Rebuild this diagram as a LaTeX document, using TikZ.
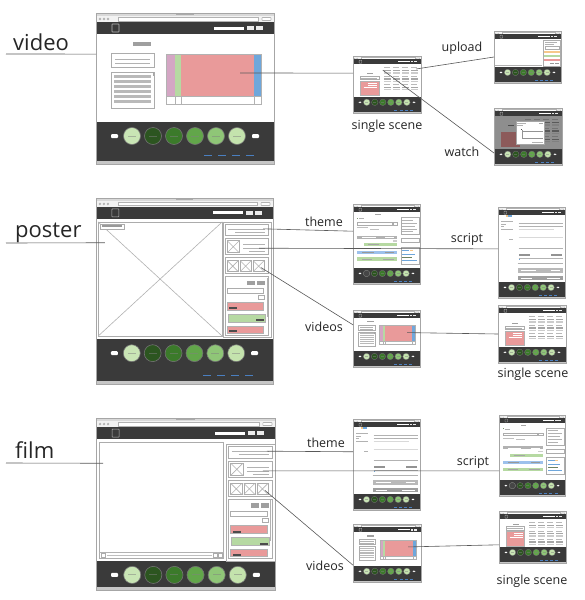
\documentclass[tikz,border=0pt]{standalone}
\usepackage{fontspec}
\setmainfont{Open Sans}
\usetikzlibrary{calc}

\definecolor{hdr}{HTML}{3A3A3A}
\definecolor{tpink}{HTML}{E99A9A}
\definecolor{tmauve}{HTML}{D4A6C4}
\definecolor{tgreen}{HTML}{B6D9A2}
\definecolor{tblue}{HTML}{6FA7DB}
\definecolor{lblue}{HTML}{9DC1EC}
\definecolor{torange}{HTML}{F6C88A}
\definecolor{dimgray}{HTML}{8E8E8E}
\definecolor{dimpink}{HTML}{8C5A5A}
\definecolor{linkblue}{HTML}{4A7FC0}
\definecolor{cA}{HTML}{C9E5B5}
\definecolor{cB}{HTML}{2C5520}
\definecolor{cC}{HTML}{3B7A2A}
\definecolor{cD}{HTML}{62A64A}
\definecolor{cE}{HTML}{8FC677}
\definecolor{cF}{HTML}{C4E3AD}

\newcommand{\wlw}{0.5}

\tikzset{
  wbox/.style={draw=gray!65, line width=\wlw pt, fill=white},
  wline/.style={draw=gray!60, line width=\wlw pt},
  conn/.style={draw=black!65, line width=0.6pt},
  biglabel/.style={font=\fontsize{22}{26}\selectfont, text=black!85, inner sep=0pt, anchor=base west},
  smalllabel/.style={font=\fontsize{12.5}{15}\selectfont, text=black!85, inner sep=0pt},
}

% crossed image placeholder
\newcommand{\ximg}[4]{%
  \draw[wbox] (#1,#2) rectangle (#3,#4);
  \draw[wline] (#1,#2)--(#3,#4) (#1,#4)--(#3,#2);}

% browser window: name, x0, y0, x1, y1, footer height, page content
\newcommand{\wf}[7]{%
  \pgfmathsetmacro{\ws}{(#4-#2)/178}%
  \pgfmathsetmacro{\wH}{(#5-#3)/\ws}%
  \pgfmathsetmacro{\wF}{#6}%
  \pgfmathsetmacro{\wB}{\wH-\wF}%
  \pgfmathsetmacro{\wcy}{\wB+14}%
  \pgfmathsetmacro{\wlw}{0.15+0.45*\ws}%
  \begin{scope}[shift={(#2,#3)},x=\ws pt,y=-\ws pt]
    \fill[gray!25] (0,0) rectangle (178,\wH);
    % title bar and address bar
    \fill[gray!30] (0,0) rectangle (178,3);
    \fill[gray!65] (80,1) rectangle (98,2.2);
    \fill[gray!10] (0,3) rectangle (178,9);
    \foreach \ix in {4,8,12}{\fill[gray!60] (\ix,6) circle (1.3);}
    \draw[gray!60, fill=white, line width=\wlw pt] (22,4.2) rectangle (162,7.8);
    \draw[gray!60, fill=white, line width=\wlw pt, rounded corners=0.5pt] (166,4.5) rectangle (175,7.5);
    % header
    \fill[hdr] (0,9) rectangle (178,21);
    \draw[gray!55, line width=\wlw pt, rounded corners=0.5pt] (16,11) rectangle (23,19);
    \fill[white] (118,13.5) rectangle (148,16.5);
    \fill[gray!15] (151,13) rectangle (158,17);
    \fill[gray!15] (160,13) rectangle (167,17);
    % page body
    \fill[white] (0,21) rectangle (178,\wB);
    % footer with the step buttons
    \fill[hdr] (0,\wB) rectangle (178,\wH-3);
    \fill[gray!45] (0,\wH-3) rectangle (178,\wH);
    \foreach \i/\cl in {0/cA,1/cB,2/cC,3/cD,4/cE,5/cF}{
      \fill[\cl, draw=black!55, line width=\wlw pt] (36+21*\i,\wcy) circle (8.5);
      \fill[gray!50!\cl] (32+21*\i,\wcy-0.5) rectangle (40+21*\i,\wcy+0.5);}
    \fill[white, rounded corners=1pt] (15,\wcy-2) rectangle (22,\wcy+2);
    \fill[white, rounded corners=1pt] (156,\wcy-2) rectangle (163,\wcy+2);
    \ifdim\wF pt>35pt
      \foreach \ix in {108,122,136,150}{\fill[linkblue] (\ix,\wH-9) rectangle (\ix+8,\wH-8);}
    \fi
    \coordinate (#1-nw) at (0,0);
    \coordinate (#1-sw) at (0,\wH);
    #7
    \draw[gray!70, line width=\wlw pt] (0,0) rectangle (178,\wH);
  \end{scope}}

% scene overview page of a video
\newcommand{\cvideo}[1]{%
  \fill[gray!75] (37,29) rectangle (55,33);
  \draw[wbox] (15,40) rectangle (58,54);
  \draw[wline] (19,46)--(54,46) (19,50)--(54,50);
  \draw[wbox] (15,59) rectangle (58,95);
  \foreach \yy in {62,67,72,77,82,87}{\fill[gray!55] (18,\yy) rectangle (55,\yy+2.6);}
  \fill[gray!70] (56.5,59) rectangle (58,63);
  \fill[tmauve] (70,41) rectangle (79,83);
  \fill[tgreen] (79,41) rectangle (85,83);
  \fill[tpink] (85,41) rectangle (158,83);
  \fill[tblue] (158,41) rectangle (165,83);
  \draw[wline] (70,41) rectangle (165,91) (70,83)--(165,83)
    (79,83)--(79,91) (85,83)--(85,91) (158,83)--(158,91);
  \coordinate (#1-tab) at (144,60);}

% single scene page
\newcommand{\cscene}[1]{%
  \fill[gray!75] (36,\wB-62) rectangle (52,\wB-59);
  \draw[wbox] (18,\wB-55) rectangle (68,\wB-46);
  \draw[wline] (22,\wB-50)--(64,\wB-50);
  \fill[tpink, draw=gray!60, line width=\wlw pt] (18,\wB-42) rectangle (68,\wB-4);
  \draw[white, line width=\wlw pt] (40,\wB-36)--(64,\wB-36) (40,\wB-32)--(64,\wB-32) (28,\wB-26)--(64,\wB-26);
  \foreach \cc in {0,...,3}{\foreach \rr in {0,1,2}{
    \fill[gray!55] (80+24*\cc,30+22*\rr) rectangle (96+24*\cc,32+22*\rr);
    \fill[gray!70] (80+24*\cc,36+22*\rr) rectangle (99+24*\cc,40+22*\rr);
    \fill[gray!40] (80+24*\cc,43+22*\rr) rectangle (99+24*\cc,46+22*\rr);}}
  \coordinate (#1-g1) at (165,34);
  \coordinate (#1-g2) at (78,37);}

% upload page
\newcommand{\cupload}[1]{%
  \draw[wline] (3,\wB-5) -- (128,\wB-5);
  \draw[wbox] (131,23) rectangle (176,\wB-2);
  \draw[wline] (135,30)--(168,30) (135,35)--(160,35);
  \draw[wbox] (135,40) rectangle (172,47);
  \fill[torange] (134,52) rectangle (175,58);
  \fill[tgreen] (134,63) rectangle (175,68);
  \fill[tpink] (134,74) rectangle (175,80);
  \fill[gray!80] (150,84) rectangle (160,88);
  \fill[gray!80] (162,84) rectangle (172,88);}

% scene page dimmed behind the player dialog
\newcommand{\cwatch}[1]{%
  \fill[dimgray] (0,21) rectangle (178,\wB);
  \fill[black!70] (36,\wB-62) rectangle (52,\wB-59);
  \fill[dimpink] (18,\wB-45) rectangle (68,\wB-4);
  \foreach \cc in {0,...,3}{\foreach \rr in {0,1,2}{
    \fill[black!55] (80+24*\cc,30+22*\rr) rectangle (96+24*\cc,32+22*\rr);
    \fill[black!65] (80+24*\cc,36+22*\rr) rectangle (99+24*\cc,40+22*\rr);
    \fill[black!50] (80+24*\cc,43+22*\rr) rectangle (99+24*\cc,46+22*\rr);}}
  \fill[white, draw=gray!70, line width=\wlw pt] (57,35) rectangle (132,94);
  \draw[wline] (61,40)--(85,40) (61,45)--(75,45);
  \fill[gray!70] (118,39) rectangle (128,43);
  \draw[wline, draw=gray!85] (74,57)--(74,80)--(128,80) (74,60)--(128,60);
  \fill[black!70] (70,55) rectangle (73,58);
  \draw[wline] (100,89)--(128,89);}

% theme page
\newcommand{\ctheme}[1]{%
  \fill[gray!70] (58,26) rectangle (74,29);
  \fill[tgreen!70!black] (10,36) rectangle (13,39);
  \fill[gray!60] (15,37) rectangle (30,39);
  \draw[wbox] (10,48) rectangle (104,55);
  \draw[wbox] (106,48) rectangle (118,55);
  \fill[gray!50] (10,62) rectangle (40,64);
  \fill[gray!50] (45,66) rectangle (70,68);
  \fill[gray!60] (10,84) rectangle (118,93);
  \draw[white, line width=\wlw pt] (25,88.5)--(60,88.5) (85,88.5)--(110,88.5);
  \fill[gray!40] (105,96) rectangle (118,100);
  \fill[tgreen] (30,104) rectangle (118,112);
  \draw[gray!70, line width=\wlw pt] (40,108)--(70,108);
  \fill[lblue] (10,124) rectangle (118,133);
  \draw[gray!80, line width=\wlw pt] (25,128.5)--(55,128.5) (85,128.5)--(110,128.5);
  \fill[tgreen] (10,142) rectangle (118,151);
  \draw[gray!70, line width=\wlw pt] (25,146.5)--(50,146.5) (80,146.5)--(110,146.5);
  \draw[wbox] (127,35) rectangle (175,80);
  \draw[wline] (131,42)--(160,42) (131,50)--(170,50) (131,58)--(165,58) (131,66)--(170,66) (131,73)--(160,73);
  \draw[wbox] (127,92) rectangle (175,102);
  \draw[wbox] (127,115) rectangle (175,160);
  \fill[tblue] (131,122) rectangle (150,125);
  \fill[torange] (152,122) rectangle (160,125);
  \fill[tblue] (131,132) rectangle (165,134);
  \fill[tgreen!60!black] (131,140) rectangle (158,142);
  \fill[tblue] (131,148) rectangle (170,150);
  \fill[gray!55!black, draw=black!55, line width=\wlw pt] (36,\wcy) circle (8.5);}

% script page
\newcommand{\cscript}[1]{%
  \fill[torange] (20,22) rectangle (26,26);
  \fill[tblue] (26,22) rectangle (36,26);
  \draw[wline] (8,37)--(40,37) (8,58)--(40,58);
  \fill[gray!60] (8,44) rectangle (20,46);
  \fill[gray!60] (8,50) rectangle (16,52);
  \fill[gray!60] (28,84) rectangle (40,86);
  \draw[wline] (55,44)--(172,44) (55,50)--(172,50);
  \draw[gray!30, line width=\wlw pt] (55,58)--(150,58) (55,80)--(172,80);
  \draw[wline] (55,110)--(172,110);
  \fill[gray!85] (55,124) rectangle (85,130);
  \fill[gray!85] (140,124) rectangle (170,130);
  \draw[wline] (55,135)--(172,135);
  \fill[tblue] (55,138) rectangle (58,140);
  \draw[wline] (52,150)--(172,150);
  \fill[gray!55] (52,161) rectangle (172,175);
  \draw[white, line width=\wlw pt] (60,168)--(100,168) (140,168)--(165,168);
  \fill[gray!75] (52,182) rectangle (172,195);
  \draw[white, line width=\wlw pt] (60,188.5)--(90,188.5) (130,188.5)--(165,188.5);}

% right-hand panel of the poster and film pages
\newcommand{\cpanel}[1]{%
  \draw[wbox] (0,24) rectangle (48,140);
  \draw[wbox] (2,26) rectangle (45,38);
  \draw[wline] (5,31)--(42,31) (12,34.5)--(42,34.5);
  \draw[wbox] (2,41) rectangle (45,57);
  \ximg{4}{43}{16}{55}
  \draw[wline] (20,47)--(42,47) (20,50.5)--(42,50.5) (26,54)--(42,54);
  \draw[wbox] (2,60) rectangle (45,76);
  \ximg{4}{63}{15}{74}
  \ximg{17}{63}{28}{74}
  \ximg{30}{63}{41}{74}
  \draw[wbox] (2,79) rectangle (45,138);
  \fill[gray!75] (24,83) rectangle (32,87);
  \fill[gray!75] (34,83) rectangle (42,87);
  \draw[wbox] (4,91) rectangle (40,96);
  \draw[wbox] (35,98) rectangle (41,102);
  \fill[tpink, draw=gray!60, line width=\wlw pt] (4,105) rectangle (40,113);
  \fill[black!70] (6,110) rectangle (14,112);
  \fill[tgreen, draw=gray!60, line width=\wlw pt] (5,117) rectangle (42,125);
  \fill[black!70] (33,122) rectangle (41,124);
  \fill[tpink, draw=gray!60, line width=\wlw pt] (4,129) rectangle (40,136);
  \fill[black!70] (6,133) rectangle (14,135);
  \fill[gray!60] (43.5,80) rectangle (44.5,120);
  \coordinate (#1-b1) at (40,31);
  \coordinate (#1-b2) at (36,50.5);
  \coordinate (#1-b3) at (38,70);}

% poster page
\newcommand{\cposter}[1]{%
  \ximg{2}{24}{127}{139}
  \draw[wbox] (4,26) rectangle (28,31);
  \fill[gray!80] (6,27.5) rectangle (26,29.5);
  \coordinate (#1-ul) at (9,45);
  \begin{scope}[shift={(128,0)}]\cpanel{#1}\end{scope}}

% film page
\newcommand{\cfilm}[1]{%
  \draw[wbox] (3,24) rectangle (127,140);
  \draw[wline] (3,134)--(127,134);
  \draw[wbox] (5,135) rectangle (9,139);
  \fill[gray!50] (11,136.3) rectangle (115,137.7);
  \draw[wbox] (117,135) rectangle (121,139);
  \draw[wbox] (122,135) rectangle (126,139);
  \coordinate (#1-ul) at (7,45);
  \begin{scope}[shift={(130,2)}]\cpanel{#1}\end{scope}}

\begin{document}
\begin{tikzpicture}[x=1pt,y=-1pt]
  \fill[white] (0,0) rectangle (584,600);
  \useasboundingbox (0,0) rectangle (584,600);

  % video row
  \wf{video}{96}{13}{274}{164}{42}{\cvideo{video}}
  \wf{ss1}{353}{56}{421}{113}{42}{\cscene{ss1}}
  \wf{up}{494}{31}{561}{83}{42}{\cupload{up}}
  \wf{wt}{494}{108}{562}{165}{42}{\cwatch{wt}}

  % poster row
  \wf{poster}{96}{198}{273}{384}{45}{\cposter{poster}}
  \wf{th1}{353}{204}{420}{284}{42}{\ctheme{th1}}
  \wf{sc1}{498}{207}{565}{298}{42}{\cscript{sc1}}
  \wf{vid1}{353}{310}{420}{367}{42}{\cvideo{vid1}}
  \wf{ss2}{498}{305}{566}{363}{42}{\cscene{ss2}}

  % film row
  \wf{film}{96}{418}{275}{590}{29}{\cfilm{film}}
  \wf{th2}{353}{419}{420}{510}{42}{\cscript{th2}}
  \wf{sc2}{499}{415}{565}{496}{42}{\ctheme{sc2}}
  \wf{vid2}{353}{524}{421}{582}{42}{\cvideo{vid2}}
  \wf{ss3}{499}{511}{566}{563}{42}{\cscene{ss3}}

  % row titles with underlines
  \node[biglabel] (lvideo) at (13,50) {video};
  \node[biglabel] (lposter) at (15,237) {poster};
  \node[biglabel] (lfilm) at (15,458) {film};
  \coordinate (uvideo) at (6,54);
  \coordinate (uposter) at (6,243);
  \coordinate (ufilm) at (6,463);
  \draw[conn] (uvideo) -- ($(video-nw)!0.272!(video-sw)$);
  \draw[conn] (uposter) -- (poster-ul);
  \draw[conn] (ufilm) -- (film-ul);

  % page labels
  \node[smalllabel] (lss1) at (387,126) {single scene};
  \node[smalllabel] (lup) at (462,48) {upload};
  \node[smalllabel] (lwt) at (462,152) {watch};
  \node[smalllabel] (lth1) at (324,222) {theme};
  \node[smalllabel] (lsc1) at (467,239) {script};
  \node[smalllabel] (lvid1) at (324,327) {videos};
  \node[smalllabel] (lss2) at (533,374) {single scene};
  \node[smalllabel] (lth2) at (326,443) {theme};
  \node[smalllabel] (lsc2) at (473,462) {script};
  \node[smalllabel] (lvid2) at (325,566) {videos};
  \node[smalllabel] (lss3) at (532,581) {single scene};

  % links between pages
  \draw[conn] (video-tab) -- ($(ss1-nw)!0.30!(ss1-sw)$);
  \draw[conn] (ss1-g1) -- ($(up-nw)!0.5!(up-sw)$);
  \draw[conn] (ss1-g2) -- ($(wt-nw)!0.79!(wt-sw)$);
  \draw[conn] (poster-b1) -- ($(th1-nw)!0.34!(th1-sw)$);
  \draw[conn] (poster-b2) -- ($(sc1-nw)!0.46!(sc1-sw)$);
  \draw[conn] (poster-b3) -- ($(vid1-nw)!0.26!(vid1-sw)$);
  \draw[conn] (vid1-tab) -- ($(ss2-nw)!0.5!(ss2-sw)$);
  \draw[conn] (film-b1) -- ($(th2-nw)!0.36!(th2-sw)$);
  \draw[conn] (film-b2) -- ($(sc2-nw)!0.69!(sc2-sw)$);
  \draw[conn] (film-b3) -- ($(vid2-nw)!0.71!(vid2-sw)$);
  \draw[conn] (vid2-tab) -- ($(ss3-nw)!0.65!(ss3-sw)$);
\end{tikzpicture}
\end{document}
